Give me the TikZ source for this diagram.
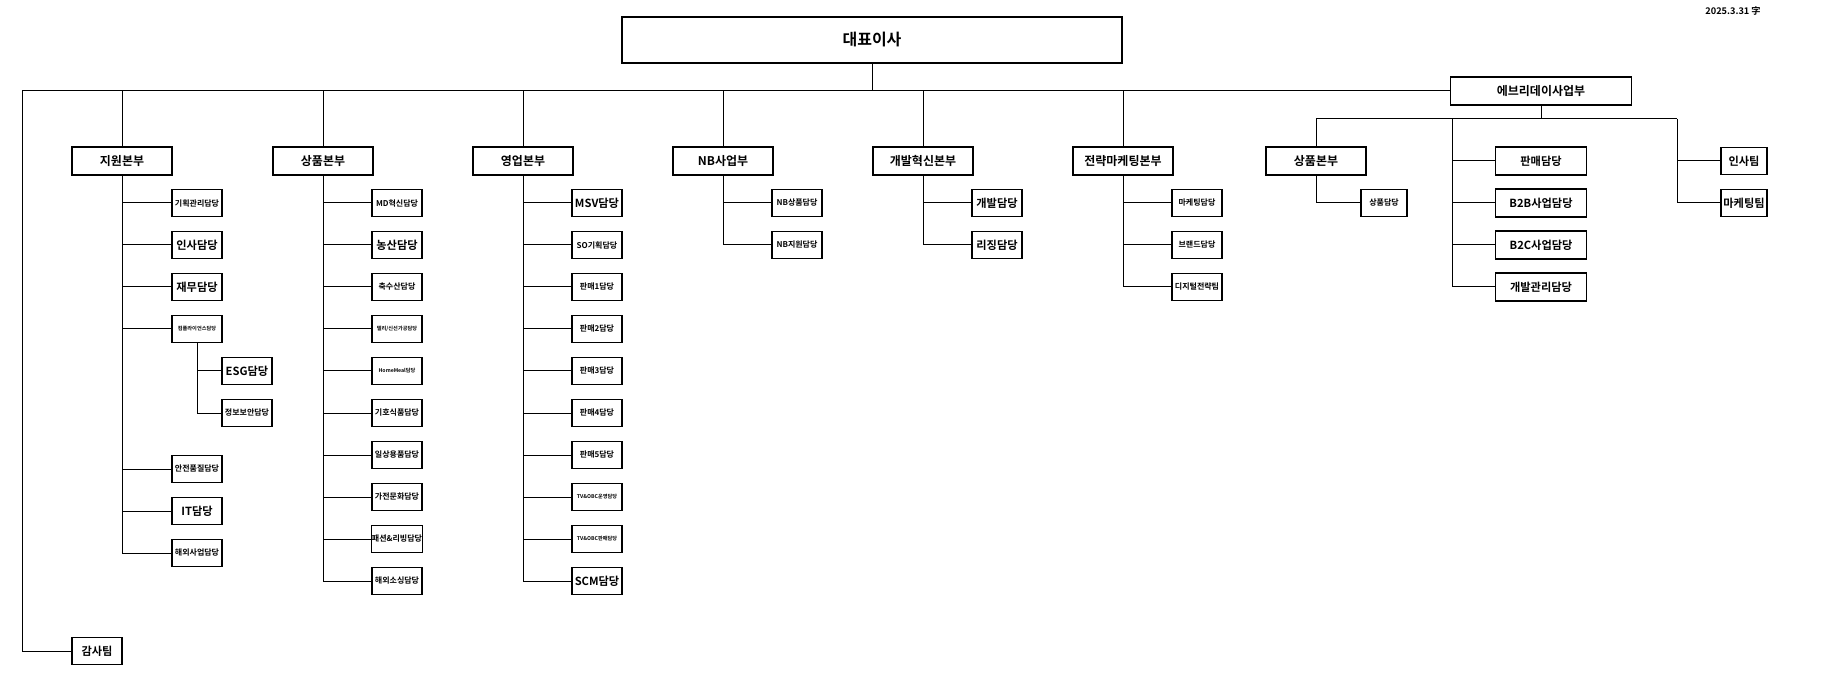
\documentclass[tikz,border=0pt]{standalone}
\usepackage{fontspec}
\setmainfont{Noto Sans CJK KR Bold}
\usepackage{tikz}
\usetikzlibrary{positioning}
\newcommand{\fb}{\fontsize{5.6pt}{6pt}\selectfont}
\newcommand{\fm}{\fontsize{4pt}{4.5pt}\selectfont}
\newcommand{\fs}{\fontsize{2.6pt}{3pt}\selectfont}
\tikzset{
  line/.style = {draw=black, line width=0.5pt},
  topbox/.style = {rectangle, draw=black, line width=0.6pt, minimum width=250pt, minimum height=23pt, font=\fontsize{8pt}{9pt}\selectfont},
  divbox/.style = {rectangle, draw=black, line width=0.6pt, minimum width=50pt, minimum height=14pt, inner sep=0.5pt, font=\fontsize{6pt}{7pt}\selectfont},
  subbox/.style = {rectangle, draw=black, line width=0.6pt, minimum width=25pt, minimum height=13.5pt, inner sep=0.3pt, text centered}
}
\begin{document}
\begin{tikzpicture}[x=0.5pt, y=-0.5pt]
\useasboundingbox (0,0) rectangle (1840,673);
\node (date) at (1733,11) {\fontsize{4.6pt}{5pt}\selectfont 2025.3.31 字};
\node (ceo) [topbox] at (872,40) {대표이사};
\node (ever) [divbox, minimum width=90.5pt] at (1541,91) {에브리데이사업부};
\coordinate (busL) at (22,91);
\coordinate (busE) at (1541,119);
\draw [line] (ceo.south) -- (ceo.south |- busL);
\draw [line] (busL) -- (ever.west);
% divisions
\foreach \n/\x/\t in {d1/122/지원본부, d2/323/상품본부, d3/523/영업본부, d4/723/NB사업부, d5/923/개발혁신본부, d6/1123/전략마케팅본부}{
  \node (\n) [divbox] at (\x,161) {\t};
  \draw [line] (\n.north) -- (\n.north |- busL);
}
% audit
\node (audit) [subbox, font=\fb] at (97,651) {감사팀};
\draw [line] (busL) |- (audit.west);
% 지원본부
\foreach \t [count=\i] in {{\fm 기획관리담당}, {\fb 인사담당}, {\fb 재무담당}, {\fs 컴플라이언스담당}}{
  \node (a\i) [subbox] at (197,161+42*\i) {\t};
  \draw [line] (d1.south) |- (a\i.west);
}
\node (a5) [subbox] at (247,371) {\fb ESG담당};
\node (a6) [subbox] at (247,413) {\fm 정보보안담당};
\draw [line] (a4.south) |- (a5.west);
\draw [line] (a4.south) |- (a6.west);
\foreach \t/\y [count=\i from 7] in {{\fm 안전품질담당}/469, {\fb IT담당}/511, {\fm 해외사업담당}/553}{
  \node (a\i) [subbox] at (197,\y) {\t};
  \draw [line] (d1.south) |- (a\i.west);
}
% 상품본부
\foreach \t [count=\i] in {{\fm MD혁신담당}, {\fb 농산담당}, {\fm 축수산담당}, {\fs 델리/신선가공담당}, {\fs HomeMeal담당}, {\fm 기호식품담당}, {\fm 일상용품담당}, {\fm 가전문화담당}, {\fm 패션\&리빙담당}, {\fm 해외소싱담당}}{
  \node (b\i) [subbox] at (397,161+42*\i) {\t};
  \draw [line] (d2.south) |- (b\i.west);
}
% 영업본부
\foreach \t [count=\i] in {{\fb MSV담당}, {\fm SO기획담당}, {\fm 판매1담당}, {\fm 판매2담당}, {\fm 판매3담당}, {\fm 판매4담당}, {\fm 판매5담당}, {\fs TV\&OBC운영담당}, {\fs TV\&OBC판매담당}, {\fb SCM담당}}{
  \node (c\i) [subbox] at (597,161+42*\i) {\t};
  \draw [line] (d3.south) |- (c\i.west);
}
% NB사업부
\foreach \t [count=\i] in {{\fm NB상품담당}, {\fm NB지원담당}}{
  \node (e\i) [subbox] at (797,161+42*\i) {\t};
  \draw [line] (d4.south) |- (e\i.west);
}
% 개발혁신본부
\foreach \t [count=\i] in {{\fb 개발담당}, {\fb 리징담당}}{
  \node (f\i) [subbox] at (997,161+42*\i) {\t};
  \draw [line] (d5.south) |- (f\i.west);
}
% 전략마케팅본부
\foreach \t [count=\i] in {{\fm 마케팅담당}, {\fm 브랜드담당}, {\fm 디지털전략팀}}{
  \node (g\i) [subbox] at (1197,161+42*\i) {\t};
  \draw [line] (d6.south) |- (g\i.west);
}
% 에브리데이사업부
\draw [line] (ever.south) -- (busE);
\coordinate (busEL) at (1316,119);
\coordinate (busEM) at (1452,119);
\coordinate (busER) at (1677,119);
\draw [line] (busEL) -- (busER);
\node (h0) [divbox] at (1316,161) {상품본부};
\draw [line] (h0.north) -- (busEL);
\node (h1) [subbox, minimum width=23pt, font=\fm] at (1384,203) {상품담당};
\draw [line] (h0.south) |- (h1.west);
\foreach \t [count=\i] in {판매담당, B2B사업담당, B2C사업담당, 개발관리담당}{
  \node (k\i) [divbox, minimum width=45.5pt, font=\fb] at (1541,119+42*\i) {\t};
  \draw [line] (busEM) |- (k\i.west);
}
\foreach \t [count=\i] in {인사팀, 마케팅팀}{
  \node (m\i) [subbox, minimum width=23pt, font=\fb] at (1744,119+42*\i) {\t};
  \draw [line] (busER) |- (m\i.west);
}
\end{tikzpicture}
\end{document}
